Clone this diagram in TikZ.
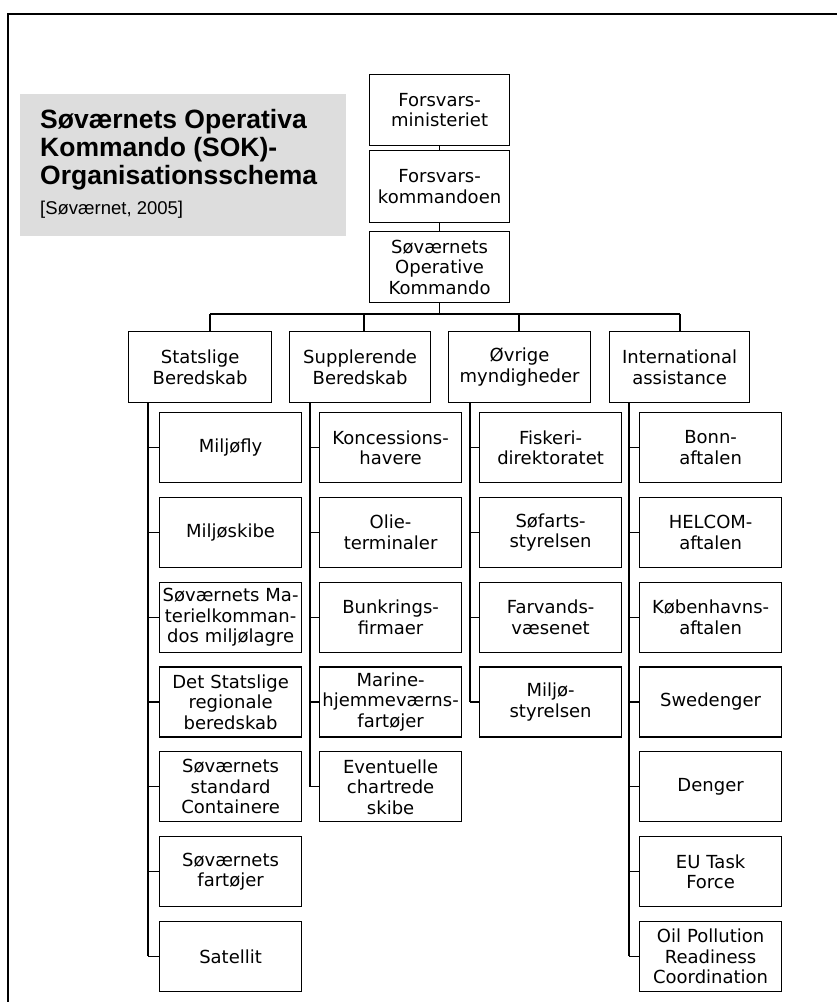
\documentclass[tikz,border=0pt]{standalone}
\usepackage{fontspec}
\setmainfont{Liberation Sans}
\newfontfamily\boxfont{DejaVu Sans}
\definecolor{panelgray}{RGB}{221,221,221}
\begin{document}
\begin{tikzpicture}[x=1pt,y=-1pt,
  orgbox/.style={draw=black, line width=1.2pt, fill=white, anchor=north west, inner sep=0pt, align=center, font=\boxfont\fontsize{18}{20.5}\selectfont},
  topbox/.style={orgbox, minimum width=140pt, minimum height=71pt, text width=137pt},
  headbox/.style={orgbox, minimum width=142pt, minimum height=71pt, text width=139pt},
  childbox/.style={orgbox, minimum width=142pt, minimum height=70pt, text width=139pt},
  link/.style={draw=black, line width=1.2pt},
  frameline/.style={draw=black, line width=1.6pt},
  titletext/.style={anchor=base west, inner sep=0pt, font=\bfseries\fontsize{26.5}{28}\selectfont},
  citetext/.style={anchor=base west, inner sep=0pt, font=\fontsize{18.5}{21}\selectfont}
]
\useasboundingbox (0,0) rectangle (837,1002);
% frame
\coordinate (fr1) at (837,14);
\coordinate (fr2) at (8,14);
\coordinate (fr3) at (8,1002);
\draw[frameline] (fr1) -- (fr2) -- (fr3);
% title panel
\fill[panelgray] (20,94) rectangle (346,236);
\node[titletext] (t1) at (40,128.5) {Søværnets Operativa};
\node[titletext] (t2) at (40,156.5) {Kommando (SOK)-};
\node[titletext] (t3) at (40,184.5) {Organisationsschema};
\node[citetext] (cite) at (40,214) {[Søværnet, 2005]};
% top chain
\node[topbox, minimum height=71pt] (fm) at (369,74) {Forsvars-\\ministeriet};
\node[topbox, minimum height=72pt] (fk) at (369,150) {Forsvars-\\kommandoen};
\node[topbox, minimum height=71pt] (sok) at (369,231) {Søværnets\\Operative\\Kommando};
\draw[link] (fm.south) -- (fk.north);
\draw[link] (fk.south) -- (sok.north);
% level 2
\node[headbox, minimum width=143pt] (stat) at (128,331) {Statslige\\Beredskab};
\node[headbox, minimum width=141pt] (supp) at (289,331) {Supplerende\\Beredskab};
\node[headbox] (ovr) at (448,331) {Øvrige\\myndigheder};
\node[headbox, minimum width=140pt] (intl) at (609,331) {International\\assistance};
% bus
\coordinate (bus) at (440,314);
\coordinate (d1) at (210,314);
\coordinate (d2) at (364,314);
\coordinate (d3) at (519,314);
\coordinate (d4) at (680,314);
\draw[link] (sok.south) -- (sok.south |- bus);
\draw[link] (d1) -- (d4);
\draw[link] (d1) -- (d1 |- stat.north);
\draw[link] (d2) -- (d2 |- supp.north);
\draw[link] (d3) -- (d3 |- ovr.north);
\draw[link] (d4) -- (d4 |- intl.north);
% spines
\coordinate (sp1) at (148,402);
\coordinate (sp2) at (310,402);
\coordinate (sp3) at (470,402);
\coordinate (sp4) at (629,402);
% column 1
\foreach \t [count=\i] in {{Miljøfly},{Miljøskibe},{Søværnets Ma-\\terielkomman-\\dos miljølagre},{Det Statslige\\regionale\\beredskab},{Søværnets\\standard\\Containere},{Søværnets\\fartøjer},{Satellit}}{
  \node[childbox] (A\i) at (159,{412+84.8*(\i-1)}) {\t};
  \draw[link] (A\i.west) -- (A\i.west -| sp1);
}
\draw[link] (sp1) -- (sp1 |- A7.west);
% column 2
\foreach \t [count=\i] in {{Koncessions-\\havere},{Olie-\\terminaler},{Bunkrings-\\firmaer},{Marine-\\hjemmeværns-\\fartøjer},{Eventuelle\\chartrede\\skibe}}{
  \node[childbox] (B\i) at (319,{412+84.8*(\i-1)}) {\t};
  \draw[link] (B\i.west) -- (B\i.west -| sp2);
}
\draw[link] (sp2) -- (sp2 |- B5.west);
% column 3
\foreach \t [count=\i] in {{Fiskeri-\\direktoratet},{Søfarts-\\styrelsen},{Farvands-\\væsenet},{Miljø-\\styrelsen}}{
  \node[childbox] (C\i) at (479,{412+84.8*(\i-1)}) {\t};
  \draw[link] (C\i.west) -- (C\i.west -| sp3);
}
\draw[link] (sp3) -- (sp3 |- C4.west);
% column 4
\foreach \t [count=\i] in {{Bonn-\\aftalen},{HELCOM-\\aftalen},{Københavns-\\aftalen},{Swedenger},{Denger},{EU Task\\Force},{Oil Pollution\\Readiness\\Coordination}}{
  \node[childbox] (E\i) at (639,{412+84.8*(\i-1)}) {\t};
  \draw[link] (E\i.west) -- (E\i.west -| sp4);
}
\draw[link] (sp4) -- (sp4 |- E7.west);
\end{tikzpicture}
\end{document}
